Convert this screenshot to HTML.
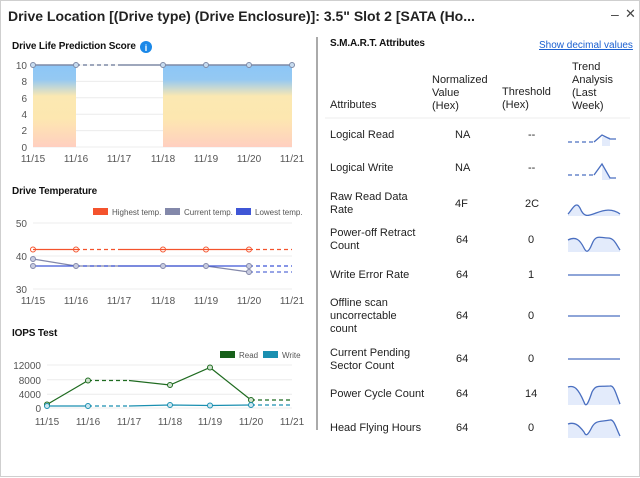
<!DOCTYPE html>
<html><head><meta charset="utf-8"><style>
body{margin:0;width:640px;height:478px;background:#fff;font-family:"Liberation Sans",Arial,sans-serif;overflow:hidden;position:relative;color:#222}
.t{position:absolute;white-space:nowrap}
.h{font-weight:bold;font-size:10px;letter-spacing:-0.15px;color:#111}
.c{font-size:11px;color:#222}
</style></head><body>
<svg width="640" height="478" style="position:absolute;left:0;top:0" font-family="Liberation Sans, Arial, sans-serif">
<defs><linearGradient id="g" x1="0" y1="0" x2="0" y2="1">
<stop offset="0" stop-color="#8cc6f7"/><stop offset="0.18" stop-color="#95c9f2"/><stop offset="0.38" stop-color="#fbe8b2"/><stop offset="0.65" stop-color="#fde7b0"/><stop offset="1" stop-color="#ffcfc0"/></linearGradient></defs>
<rect x="0.5" y="0.5" width="639" height="476" fill="none" stroke="#cfcfcf"/>
<line x1="317" y1="37" x2="317" y2="430" stroke="#555" stroke-width="1"/>
<g stroke="#ececec"><line x1="33" y1="65" x2="292" y2="65"/><line x1="33" y1="81.4" x2="292" y2="81.4"/><line x1="33" y1="97.8" x2="292" y2="97.8"/><line x1="33" y1="114.2" x2="292" y2="114.2"/><line x1="33" y1="130.6" x2="292" y2="130.6"/><line x1="33" y1="147" x2="292" y2="147"/></g>
<rect x="33" y="65" width="43" height="82" fill="url(#g)"/>
<rect x="163" y="65" width="129" height="82" fill="url(#g)"/>
<line x1="33" y1="65" x2="76" y2="65" stroke="#7f8aa6" stroke-width="1.5"/>
<line x1="76" y1="65" x2="119" y2="65" stroke="#7f8aa6" stroke-width="1.5" stroke-dasharray="4,3"/>
<line x1="119" y1="65" x2="292" y2="65" stroke="#7f8aa6" stroke-width="1.5"/>
<g fill="#c8dcf0" stroke="#7f8aa6" stroke-width="1"><circle cx="33" cy="65" r="2.5"/><circle cx="76" cy="65" r="2.5"/><circle cx="163" cy="65" r="2.5"/><circle cx="206" cy="65" r="2.5"/><circle cx="249" cy="65" r="2.5"/><circle cx="292" cy="65" r="2.5"/></g>
<g font-size="10" fill="#555" text-anchor="end"><text x="27" y="69">10</text><text x="27" y="85">8</text><text x="27" y="102">6</text><text x="27" y="118">4</text><text x="27" y="134">2</text><text x="27" y="151">0</text></g>
<g font-size="10" fill="#555" text-anchor="middle"><text x="33" y="162">11/15</text><text x="76" y="162">11/16</text><text x="119" y="162">11/17</text><text x="163" y="162">11/18</text><text x="206" y="162">11/19</text><text x="249" y="162">11/20</text><text x="292" y="162">11/21</text></g>
<circle cx="146" cy="47" r="6" fill="#1a88e8"/><text x="146" y="51" font-size="9" font-weight="bold" fill="#fff" text-anchor="middle">i</text>
<g stroke="#ececec"><line x1="33" y1="223" x2="292" y2="223"/><line x1="33" y1="256" x2="292" y2="256"/><line x1="33" y1="289" x2="292" y2="289"/></g>
<rect x="93" y="208" width="15" height="7" fill="#f4532d"/><text x="112" y="215" font-size="8" fill="#555">Highest temp.</text>
<rect x="165" y="208" width="15" height="7" fill="#8388aa"/><text x="184" y="215" font-size="8" fill="#555">Current temp.</text>
<rect x="236" y="208" width="15" height="7" fill="#3f56d6"/><text x="255" y="215" font-size="8" fill="#555">Lowest temp.</text>
<polyline points="33,249.5 76,249.5" stroke="#f4532d" fill="none" stroke-width="1.2"/>
<line x1="76" y1="249.5" x2="119" y2="249.5" stroke="#f4532d" stroke-dasharray="4,3" stroke-width="1.2"/>
<line x1="119" y1="249.5" x2="249" y2="249.5" stroke="#f4532d" stroke-width="1.2"/>
<line x1="249" y1="249.5" x2="292" y2="249.5" stroke="#f4532d" stroke-dasharray="4,3" stroke-width="1.2"/>
<polyline points="33,259 76,266 206,266 249,272" stroke="#8388aa" fill="none" stroke-width="1.2"/>
<line x1="249" y1="272" x2="292" y2="272" stroke="#5a6fd8" stroke-dasharray="4,3" stroke-width="1.2"/>
<line x1="33" y1="266" x2="76" y2="266" stroke="#3f56d6" stroke-width="1.2"/>
<line x1="76" y1="266" x2="119" y2="266" stroke="#3f56d6" stroke-dasharray="4,3" stroke-width="1.2"/>
<line x1="119" y1="266" x2="249" y2="266" stroke="#3f56d6" stroke-width="1.2"/>
<line x1="249" y1="266" x2="292" y2="266" stroke="#3f56d6" stroke-dasharray="4,3" stroke-width="1.2"/>
<g fill="none" stroke="#f4532d"><circle cx="33" cy="249.5" r="2.5"/><circle cx="76" cy="249.5" r="2.5"/><circle cx="163" cy="249.5" r="2.5"/><circle cx="206" cy="249.5" r="2.5"/><circle cx="249" cy="249.5" r="2.5"/></g>
<g fill="#c8cbe0" stroke="#8388aa"><circle cx="33" cy="259" r="2.5"/><circle cx="33" cy="266" r="2.5"/><circle cx="76" cy="266" r="2.5"/><circle cx="163" cy="266" r="2.5"/><circle cx="206" cy="266" r="2.5"/><circle cx="249" cy="266" r="2.5"/><circle cx="249" cy="272" r="2.5"/></g>
<g font-size="10" fill="#555" text-anchor="end"><text x="27" y="227">50</text><text x="27" y="260">40</text><text x="27" y="293">30</text></g>
<g font-size="10" fill="#555" text-anchor="middle"><text x="33" y="304">11/15</text><text x="76" y="304">11/16</text><text x="119" y="304">11/17</text><text x="163" y="304">11/18</text><text x="206" y="304">11/19</text><text x="249" y="304">11/20</text><text x="292" y="304">11/21</text></g>
<g stroke="#ececec"><line x1="47" y1="365" x2="292" y2="365"/><line x1="47" y1="379.7" x2="292" y2="379.7"/><line x1="47" y1="394.3" x2="292" y2="394.3"/><line x1="47" y1="408" x2="292" y2="408"/></g>
<rect x="220" y="351" width="15" height="7" fill="#17601a"/><text x="239" y="358" font-size="8" fill="#555">Read</text>
<rect x="263" y="351" width="15" height="7" fill="#1a8fb0"/><text x="282" y="358" font-size="8" fill="#555">Write</text>
<polyline points="47,404.5 88,380.5" stroke="#1f6b20" fill="none" stroke-width="1.2"/>
<line x1="88" y1="380.5" x2="129" y2="380.5" stroke="#1f6b20" stroke-dasharray="4,3" stroke-width="1.2"/>
<polyline points="129,380.5 170,385 210,367.5 251,400" stroke="#1f6b20" fill="none" stroke-width="1.2"/>
<line x1="251" y1="400" x2="292" y2="400" stroke="#1f6b20" stroke-dasharray="4,3" stroke-width="1.2"/>
<polyline points="47,406 88,406" stroke="#1a8fb0" fill="none" stroke-width="1.2"/>
<line x1="88" y1="406" x2="129" y2="406" stroke="#1a8fb0" stroke-dasharray="4,3" stroke-width="1.2"/>
<polyline points="129,406 170,405 210,405.5 251,405" stroke="#1a8fb0" fill="none" stroke-width="1.2"/>
<line x1="251" y1="405" x2="292" y2="405" stroke="#1a8fb0" stroke-dasharray="4,3" stroke-width="1.2"/>
<g fill="#cfe2cf" stroke="#1f6b20"><circle cx="47" cy="404.5" r="2.5"/><circle cx="88" cy="380.5" r="2.5"/><circle cx="170" cy="385" r="2.5"/><circle cx="210" cy="367.5" r="2.5"/><circle cx="251" cy="400" r="2.5"/></g>
<g fill="#cde7f0" stroke="#1a8fb0"><circle cx="47" cy="406" r="2.5"/><circle cx="88" cy="406" r="2.5"/><circle cx="170" cy="405" r="2.5"/><circle cx="210" cy="405.5" r="2.5"/><circle cx="251" cy="405" r="2.5"/></g>
<g font-size="10" fill="#555" text-anchor="end"><text x="41" y="369">12000</text><text x="41" y="384">8000</text><text x="41" y="398">4000</text><text x="41" y="412">0</text></g>
<g font-size="10" fill="#555" text-anchor="middle"><text x="47" y="425">11/15</text><text x="88" y="425">11/16</text><text x="129" y="425">11/17</text><text x="170" y="425">11/18</text><text x="210" y="425">11/19</text><text x="251" y="425">11/20</text><text x="292" y="425">11/21</text></g>
<line x1="325" y1="118" x2="630" y2="118" stroke="#eee"/>
<g fill="#e3ebfb">
<rect x="602" y="137" width="8" height="9"/><path d="M602,166 L610,178 V180 H602Z"/>
<path d="M568,214 C572,210 576,200 580,208 C584,218 588,216 596,213 C604,210 612,208 620,214 V216 H568Z"/>
<path d="M568,240 C576,236 580,240 584,248 C586,252 588,254 592,244 C596,234 600,238 608,238 C614,238 616,244 620,250 V252 H568Z"/>
<path d="M568,387 C574,385 578,388 584,402 C586,408 588,404 592,392 C596,384 600,387 610,386 C614,385 616,394 620,404 V405 H568Z"/>
<path d="M568,424 C574,422 578,424 584,432 C586,437 588,435 592,427 C596,420 600,422 610,420 C614,419 616,428 620,436 V438 H568Z"/>
</g>
<g stroke="#4a6fc0" fill="none" stroke-width="1.3">
<path d="M568,142 H594" stroke-dasharray="4,3"/><path d="M594,142 L602,135 L610,139 H616"/>
<path d="M568,175 H594" stroke-dasharray="4,3"/><path d="M594,175 L602,164 L610,178 H616"/>
<path d="M568,214 C572,210 576,200 580,208 C584,218 588,216 596,213 C604,210 612,208 620,214"/>
<path d="M568,240 C576,236 580,240 584,248 C586,252 588,254 592,244 C596,234 600,238 608,238 C614,238 616,244 620,250"/>
<path d="M568,275 H620"/><path d="M568,316 H620"/><path d="M568,359 H620"/>
<path d="M568,387 C574,385 578,388 584,402 C586,408 588,404 592,392 C596,384 600,387 610,386 C614,385 616,394 620,404"/>
<path d="M568,424 C574,422 578,424 584,432 C586,437 588,435 592,427 C596,420 600,422 610,420 C614,419 616,428 620,436"/>
</g>
<text x="611" y="19" font-size="14" fill="#444">–</text><text x="625" y="18" font-size="13" fill="#444">✕</text>
</svg>
<div class="t" style="left:8px;top:8px;font-size:14px;font-weight:bold;color:#222">Drive Location [(Drive type) (Drive Enclosure)]: 3.5" Slot 2 [SATA (Ho...</div>
<div class="t h" style="left:12px;top:41px">Drive Life Prediction Score</div>
<div class="t h" style="left:12px;top:186px">Drive Temperature</div>
<div class="t h" style="left:12px;top:328px">IOPS Test</div>
<div class="t h" style="left:330px;top:38px">S.M.A.R.T. Attributes</div>
<div class="t" style="left:539px;top:40px;font-size:10px;color:#1a5fd0;text-decoration:underline">Show decimal values</div>
<div class="t c" style="left:330px;top:99px">Attributes</div>
<div class="t c" style="left:432px;top:74px;line-height:13px">Normalized<br>Value<br>(Hex)</div>
<div class="t c" style="left:502px;top:86px;line-height:13px">Threshold<br>(Hex)</div>
<div class="t c" style="left:572px;top:61px;line-height:13px">Trend<br>Analysis<br>(Last<br>Week)</div>
<div class="t c" style="left:330px;top:129px">Logical Read</div><div class="t c" style="left:455px;top:129px">NA</div><div class="t c" style="left:528px;top:129px">--</div>
<div class="t c" style="left:330px;top:162px">Logical Write</div><div class="t c" style="left:455px;top:162px">NA</div><div class="t c" style="left:528px;top:162px">--</div>
<div class="t c" style="left:330px;top:191px;line-height:13px">Raw Read Data<br>Rate</div><div class="t c" style="left:455px;top:198px">4F</div><div class="t c" style="left:525px;top:198px">2C</div>
<div class="t c" style="left:330px;top:227px;line-height:13px">Power-off Retract<br>Count</div><div class="t c" style="left:456px;top:234px">64</div><div class="t c" style="left:528px;top:234px">0</div>
<div class="t c" style="left:330px;top:269px">Write Error Rate</div><div class="t c" style="left:456px;top:269px">64</div><div class="t c" style="left:528px;top:269px">1</div>
<div class="t c" style="left:330px;top:297px;line-height:13px">Offline scan<br>uncorrectable<br>count</div><div class="t c" style="left:456px;top:310px">64</div><div class="t c" style="left:528px;top:310px">0</div>
<div class="t c" style="left:330px;top:347px;line-height:13px">Current Pending<br>Sector Count</div><div class="t c" style="left:456px;top:353px">64</div><div class="t c" style="left:528px;top:353px">0</div>
<div class="t c" style="left:330px;top:388px">Power Cycle Count</div><div class="t c" style="left:456px;top:388px">64</div><div class="t c" style="left:525px;top:388px">14</div>
<div class="t c" style="left:330px;top:422px">Head Flying Hours</div><div class="t c" style="left:456px;top:422px">64</div><div class="t c" style="left:528px;top:422px">0</div>
</body></html>
